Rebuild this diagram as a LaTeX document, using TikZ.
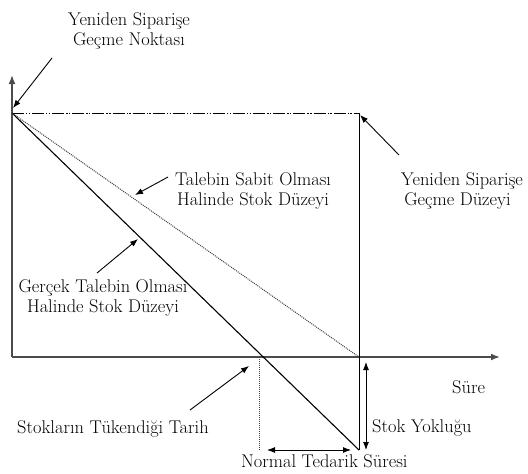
\documentclass[tikz,border=0pt]{standalone}
\usepackage{fontspec}
\usetikzlibrary{arrows.meta}
\begin{document}
\begin{tikzpicture}[x=1pt,y=-1pt,
  lbl/.style={font=\rmfamily\fontsize{18.4}{20.5}\selectfont, inner sep=0pt},
  axisline/.style={draw=black!70, line width=1.7pt},
  tipA/.style={-{Latex[length=9pt,width=7pt]}},
  arr/.style={-{Latex[length=8pt,width=6pt]}, line width=0.9pt},
  darr/.style={{Latex[length=8pt,width=6pt]}-{Latex[length=8pt,width=6pt]}, line width=0.9pt},
  dashdot/.style={line width=0.9pt, dash pattern=on 12pt off 2pt on 1.3pt off 1.5pt on 1.3pt off 2pt},
  dots/.style={draw=black!75, line width=1pt, dash pattern=on 1pt off 1pt}]
\useasboundingbox (0,0) rectangle (528,474);
% key points
\coordinate (O) at (12,357);
\coordinate (Ytop) at (12,75);
\coordinate (Xend) at (500,357);
\coordinate (R) at (12,113);
\coordinate (RL) at (359,113);
\coordinate (D) at (359,357);
\coordinate (B) at (359,450);
\coordinate (T) at (259,357);
\coordinate (TB) at (259,450);
% axes
\draw[axisline, tipA] (O) -- (Ytop);
\draw[axisline, tipA] (O) -- (Xend);
% reorder level line
\draw[dashdot] (R) -- (RL);
\draw[line width=0.9pt] (RL) -- (B);
% stock lines
\draw[line width=1.1pt] (R) -- (B);
\draw[dots] (R) -- (D);
\draw[dots] (T) -- (TB);
% double arrows
\coordinate (H1) at (267,450);
\coordinate (H2) at (351,450);
\coordinate (V1) at (366,362);
\coordinate (V2) at (366,450);
\draw[darr] (H1) -- (H2);
\draw[darr] (V1) -- (V2);
% labels
\node[lbl, align=center, anchor=north] (nokta) at (129,12) {Yeniden Siparişe\\Geçme Noktası};
\node[lbl, align=center, anchor=north] (sabit) at (253,172) {Talebin Sabit Olması\\Halinde Stok Düzeyi};
\node[lbl, align=left, anchor=north west] (duzey) at (401,172) {Yeniden Siparişe\\\,Geçme Düzeyi};
\node[lbl, align=center, anchor=north] (gercek) at (103,279) {Gerçek Talebin Olması\\Halinde Stok Düzeyi};
\node[lbl, anchor=base west] (sure) at (452,393) {Süre};
\node[lbl, anchor=base west] (tarih) at (17,433) {Stokların Tükendiği Tarih};
\node[lbl, anchor=base west] (yok) at (372,432) {Stok Yokluğu};
\node[lbl, anchor=base west] (ted) at (241,467) {Normal Tedarik Süresi};
% pointer arrows
\coordinate (a1s) at (52,58);   \coordinate (a1e) at (13,108);
\coordinate (a2s) at (168,177); \coordinate (a2e) at (135,195);
\coordinate (a3s) at (97,273);  \coordinate (a3e) at (138,239);
\coordinate (a4s) at (399,155); \coordinate (a4e) at (360,115);
\coordinate (a5s) at (190,410); \coordinate (a5e) at (249,366);
\draw[arr] (a1s) -- (a1e);
\draw[arr] (a2s) -- (a2e);
\draw[arr] (a3s) -- (a3e);
\draw[arr] (a4s) -- (a4e);
\draw[arr] (a5s) -- (a5e);
\end{tikzpicture}
\end{document}
